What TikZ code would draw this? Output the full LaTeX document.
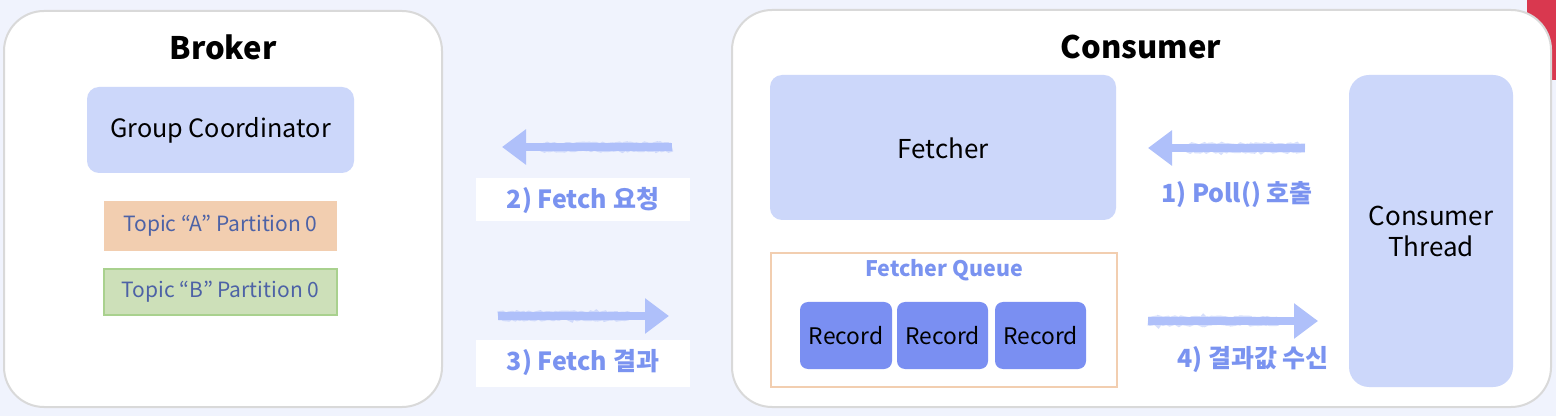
\documentclass[tikz,border=0pt]{standalone}
\usepackage{fontspec}
\setmainfont{Noto Sans CJK KR}
\usetikzlibrary{arrows.meta,decorations.pathmorphing}
\definecolor{bgc}{HTML}{F0F3FD}
\definecolor{edgec}{HTML}{D9D9D9}
\definecolor{lightb}{HTML}{CCD7FA}
\definecolor{recc}{HTML}{7A8FF2}
\definecolor{labc}{HTML}{7A93F0}
\definecolor{arrc}{HTML}{AFC0FA}
\definecolor{peach}{HTML}{F2CEB0}
\definecolor{greenf}{HTML}{CDE0B9}
\definecolor{greenb}{HTML}{A9D18E}
\definecolor{redc}{HTML}{D9384F}
\definecolor{topictxt}{HTML}{4D62A6}
\tikzset{
  panel/.style={draw=edgec, line width=1pt, fill=white, rounded corners=20pt},
  bluebox/.style={fill=lightb, rounded corners=6pt},
  recbox/.style={fill=recc, rounded corners=4pt},
  title/.style={font=\fontsize{15.5}{18}\selectfont\bfseries, text=black},
  boxtext/.style={font=\fontsize{12.6}{15}\selectfont, text=black},
  rectext/.style={font=\fontsize{11.4}{14}\selectfont, text=black},
  steplabel/.style={font=\fontsize{12.5}{15}\selectfont\bfseries, text=labc},
  topictext/.style={font=\fontsize{10.5}{13}\selectfont, text=topictxt},
  fatarrow/.style={draw=arrc, line width=4pt, -{Triangle[length=12pt,width=17pt]}},
  fuzz/.style={draw=arrc, line width=4.6pt, opacity=0.5, decorate,
    decoration={random steps, segment length=1.2pt, amplitude=0.5pt}},
}
\begin{document}
\begin{tikzpicture}[x=0.5pt,y=-0.5pt]
\fill[bgc] (0,0) rectangle (1556,416);
\useasboundingbox (0,0) rectangle (1556,416);
\fill[redc] (1527,0) rectangle (1556,80);
% Broker
\draw[panel] (4,11) rectangle (442,407);
\node[title] (broker) at (223,47) {Broker};
\fill[bluebox] (87,87) rectangle (354,173);
\node[boxtext] (gc) at (220.5,130) {Group Coordinator};
\fill[peach] (104,201) rectangle (337,251);
\node[topictext] (ta) at (220.5,226) {Topic “A” Partition 0};
\draw[fill=greenf, draw=greenb, line width=1pt] (104,269) rectangle (337,315);
\node[topictext] (tb) at (220.5,292) {Topic “B” Partition 0};
% Consumer
\draw[panel] (732,10) rectangle (1551,407);
\node[title] (consumer) at (1141,47) {Consumer};
\fill[bluebox] (770,75) rectangle (1116,220);
\node[boxtext, font=\fontsize{13}{15}\selectfont] (fetcher) at (943,148) {Fetcher};
\draw[draw=peach, line width=1pt, fill=white] (771,253) rectangle (1117,387);
\node[font=\fontsize{10.7}{13}\selectfont\bfseries, text=labc] (fq) at (944,270) {Fetcher Queue};
\fill[recbox] (800,302) rectangle (892,369);
\node[rectext] (r1) at (846,336) {Record};
\fill[recbox] (897,302) rectangle (988,369);
\node[rectext] (r2) at (942.5,336) {Record};
\fill[recbox] (995,302) rectangle (1086,369);
\node[rectext] (r3) at (1040.5,336) {Record};
\fill[bluebox, rounded corners=10pt] (1349,75) rectangle (1513,387);
\node[boxtext, align=center, font=\fontsize{13}{15.5}\selectfont] (ct) at (1431,231) {Consumer\\Thread};
% arrows
\coordinate (a2s) at (672,147); \coordinate (a2e) at (502,147);
\coordinate (a3s) at (498,316); \coordinate (a3e) at (669,316);
\coordinate (a1s) at (1305,148); \coordinate (a1e) at (1148,148);
\coordinate (a4s) at (1148,321); \coordinate (a4e) at (1318,321);
\draw[fuzz] (a2s) -- ([xshift=20pt]a2e);
\draw[fuzz] (a3s) -- ([xshift=-20pt]a3e);
\draw[fuzz] (a1s) -- ([xshift=20pt]a1e);
\draw[fuzz] (a4s) -- ([xshift=-20pt]a4e);
\draw[fatarrow] (a2s) -- (a2e);
\draw[fatarrow] (a3s) -- (a3e);
\draw[fatarrow] (a1s) -- (a1e);
\draw[fatarrow] (a4s) -- (a4e);
% labels
\fill[white] (476,178) rectangle (690,221);
\node[steplabel] (l2) at (583,200) {2) Fetch 요청};
\fill[white] (476,340) rectangle (690,387);
\node[steplabel] (l3) at (583,363) {3) Fetch 결과};
\node[steplabel] (l1) at (1237,195) {1) Poll() 호출};
\node[steplabel] (l4) at (1253,360) {4) 결과값 수신};
\end{tikzpicture}
\end{document}
